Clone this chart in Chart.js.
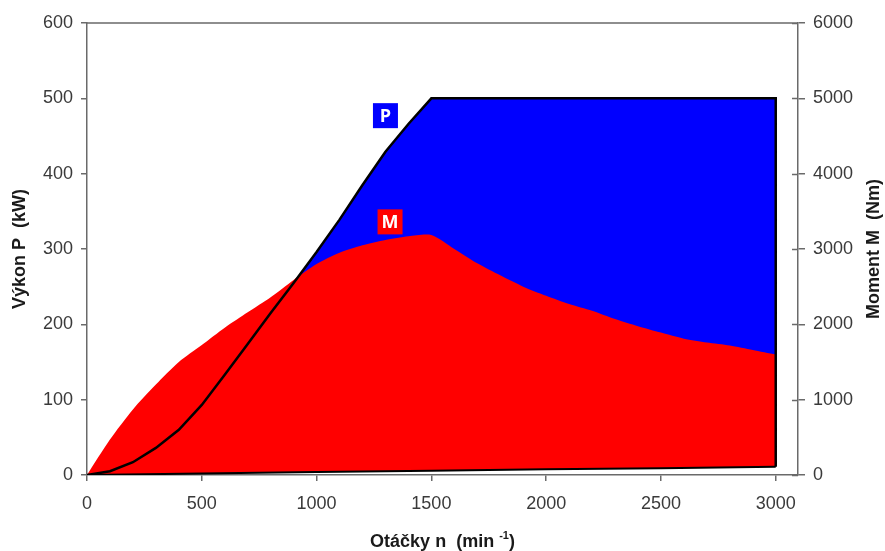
<!DOCTYPE html>
<html>
<head>
<meta charset="utf-8">
<script src="https://cdn.jsdelivr.net/npm/chart.js@4.4.1/dist/chart.umd.min.js"></script>
<style>
  html, body { margin: 0; padding: 0; background: #fff; }
  canvas { display: block; }
</style>
</head>
<body>
<canvas id="chart" width="885" height="551"></canvas>
<script>
// Engine speed n (min^-1)
const rpm = [0, 100, 200, 300, 400, 500, 600, 700, 800, 900,
             1000, 1100, 1200, 1300, 1400, 1500, 1600, 1700, 1800, 1900,
             2000, 2100, 2200, 2300, 2400, 2500, 2600, 2700, 2800, 2900, 3000];
// Power P (kW)
const powerKW = [0, 5, 17, 36, 60, 93, 133, 174, 215, 255,
                 296, 339, 385, 429, 466, 500, 500, 500, 500, 500,
                 500, 500, 500, 500, 500, 500, 500, 500, 500, 500, 500];
// Torque M (Nm)
const torqueNm = [0, 470, 870, 1200, 1500, 1725, 1955, 2160, 2360, 2590,
                  2800, 2950, 3050, 3120, 3170, 3185, 3000, 2810, 2650, 2500,
                  2380, 2270, 2180, 2070, 1975, 1890, 1810, 1760, 1720, 1660, 1600];
// Lower bounding line (kW)
const baseRpm = [0, 500, 1000, 1500, 2000, 2500, 3000];
const baseKW = [0, 2, 4, 5.5, 7.5, 9, 11];

// Tick values
const speedTicks = [0, 500, 1000, 1500, 2000, 2500, 3000];
const powerTicks = [0, 100, 200, 300, 400, 500, 600];
const torqueTicks = [0, 1000, 2000, 3000, 4000, 5000, 6000];

const powerPoints = rpm.map((n, i) => ({ x: n, y: powerKW[i] }));
// close the power curve down to the lower line at the last speed
powerPoints.push({ x: rpm[rpm.length - 1], y: baseKW[baseKW.length - 1] });
const torquePoints = rpm.map((n, i) => ({ x: n, y: torqueNm[i] }));
const basePoints = baseRpm.map((n, i) => ({ x: n, y: baseKW[i] }));

const AXIS = '#6a6a6a';
const TICK_TXT = '#3a3a3a';
const TITLE_FONT = 'bold 18px "Liberation Sans", Arial, sans-serif';

const frame = {
  id: 'frame',
  afterDraw(chart) {
    const { ctx, chartArea: a } = chart;
    ctx.save();
    ctx.strokeStyle = AXIS;
    ctx.lineWidth = 1.5;
    ctx.beginPath();
    ctx.moveTo(a.left, a.top);
    ctx.lineTo(a.right, a.top);
    // inner halves of the right-axis tick marks
    const y2 = chart.scales.y2;
    y2.ticks.forEach(t => {
      const py = Math.round(y2.getPixelForValue(t.value)) + 0.5;
      ctx.moveTo(a.right - 6, py);
      ctx.lineTo(a.right, py);
    });
    ctx.stroke();
    ctx.restore();
  }
};

const axisTitles = {
  id: 'axisTitles',
  afterDraw(chart) {
    const { ctx, chartArea: a } = chart;
    const cy = (a.top + a.bottom) / 2;
    ctx.save();
    ctx.fillStyle = '#1a1a1a';
    ctx.font = TITLE_FONT;
    ctx.textAlign = 'center';
    ctx.textBaseline = 'middle';

    ctx.save();
    ctx.translate(20, cy);
    ctx.rotate(-Math.PI / 2);
    ctx.fillText('Výkon P  (kW)', 0, 0);
    ctx.restore();

    ctx.save();
    ctx.translate(874, cy);
    ctx.rotate(-Math.PI / 2);
    ctx.fillText('Moment M  (Nm)', 0, 0);
    ctx.restore();

    // x title with superscript
    const main = 'Otáčky n  (min ';
    const sup = '-1';
    const close = ')';
    const supFont = 'bold 11px "Liberation Sans", Arial, sans-serif';
    const wMain = ctx.measureText(main).width;
    const wClose = ctx.measureText(close).width;
    ctx.font = supFont;
    const wSup = ctx.measureText(sup).width;
    const total = wMain + wSup + wClose;
    const cx = (a.left + a.right) / 2;
    let x = cx - total / 2;
    const y = 541;
    ctx.textAlign = 'left';
    ctx.textBaseline = 'alphabetic';
    ctx.font = TITLE_FONT;
    ctx.fillText(main, x, y + 6);
    x += wMain;
    ctx.font = supFont;
    ctx.fillText(sup, x, y - 2);
    x += wSup;
    ctx.font = TITLE_FONT;
    ctx.fillText(close, x, y + 6);
    ctx.restore();
  }
};

// Boxed series tags placed in data coordinates
const seriesTags = {
  id: 'seriesTags',
  afterDatasetsDraw(chart) {
    const { ctx, scales } = chart;
    const tags = [
      { text: 'P', bg: '#0000ff', xv: 1300, yv: 477, axis: 'y' },
      { text: 'M', bg: '#ff0000', xv: 1320, yv: 3360, axis: 'y2' }
    ];
    ctx.save();
    ctx.font = 'bold 18px "Open Sans", "Liberation Sans", sans-serif';
    ctx.textAlign = 'center';
    ctx.textBaseline = 'middle';
    tags.forEach(t => {
      const px = scales.x.getPixelForValue(t.xv);
      const py = scales[t.axis].getPixelForValue(t.yv);
      ctx.fillStyle = t.bg;
      ctx.fillRect(px - 12.5, py - 12.5, 25, 25);
      ctx.fillStyle = '#ffffff';
      ctx.fillText(t.text, px, py + 1);
    });
    ctx.restore();
  }
};

const tickFont = { family: '"Liberation Sans", Arial, sans-serif', size: 18 };
const plain = v => String(v);

new Chart(document.getElementById('chart'), {
  type: 'line',
  data: {
    datasets: [
      {
        label: 'M',
        data: torquePoints,
        yAxisID: 'y2',
        backgroundColor: '#ff0000',
        borderWidth: 0,
        fill: 2,
        pointRadius: 0,
        tension: 0.25
      },
      {
        label: 'P',
        data: powerPoints,
        yAxisID: 'y',
        backgroundColor: '#0000ff',
        borderColor: '#000000',
        borderWidth: 2.5,
        fill: 2,
        pointRadius: 0,
        tension: 0
      },
      {
        label: 'base',
        data: basePoints,
        yAxisID: 'y',
        borderColor: '#000000',
        borderWidth: 2,
        fill: false,
        pointRadius: 0,
        tension: 0
      }
    ]
  },
  options: {
    responsive: false,
    animation: false,
    devicePixelRatio: 1,
    layout: { padding: { top: 23, left: 0, right: 0, bottom: 0 } },
    plugins: {
      legend: { display: false },
      tooltip: { enabled: false },
      filler: { drawTime: 'beforeDatasetsDraw' }
    },
    scales: {
      x: {
        type: 'linear',
        min: 0,
        max: 3097,
        afterBuildTicks: s => { s.ticks = speedTicks.map(v => ({ value: v })); },
        afterFit: s => { s.height = 76; },
        ticks: { font: tickFont, color: TICK_TXT, padding: 12, maxRotation: 0, callback: plain },
        grid: { drawOnChartArea: false, tickLength: 6, color: AXIS, lineWidth: 1.5 },
        border: { color: AXIS, width: 1.5 }
      },
      y: {
        position: 'left',
        min: 0,
        max: 600,
        afterBuildTicks: s => { s.ticks = powerTicks.map(v => ({ value: v })); },
        afterFit: s => { s.width = 87; },
        ticks: { font: tickFont, color: TICK_TXT, padding: 8, callback: plain },
        grid: { drawOnChartArea: false, tickLength: 6, color: AXIS, lineWidth: 1.5 },
        border: { color: AXIS, width: 1.5 }
      },
      y2: {
        position: 'right',
        min: 0,
        max: 6000,
        afterBuildTicks: s => { s.ticks = torqueTicks.map(v => ({ value: v })); },
        afterFit: s => { s.width = 87; },
        ticks: { font: tickFont, color: TICK_TXT, padding: 8, callback: plain },
        grid: { drawOnChartArea: false, tickLength: 7, color: AXIS, lineWidth: 1.5 },
        border: { color: AXIS, width: 1.5 }
      }
    }
  },
  plugins: [frame, axisTitles, seriesTags]
});
</script>
</body>
</html>
